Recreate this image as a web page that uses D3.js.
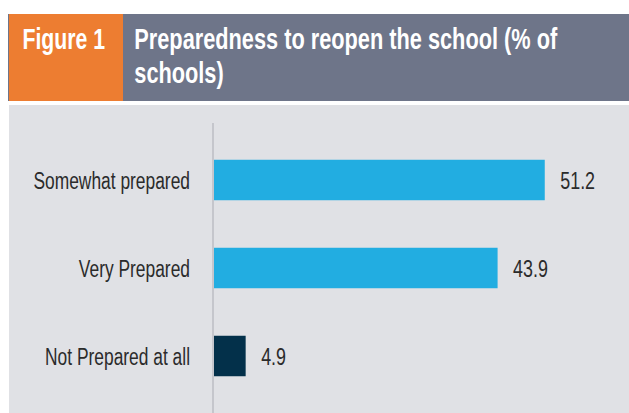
<!DOCTYPE html>
<html>
<head>
<meta charset="utf-8">
<script src="https://cdn.jsdelivr.net/npm/d3@7"></script>
<style>
  html, body { margin: 0; padding: 0; background: #ffffff; }
  svg { display: block; }
</style>
</head>
<body>
<svg id="chart" width="629" height="413"></svg>
<script>
const categories = ["Somewhat prepared", "Very Prepared", "Not Prepared at all"];
const values = [51.2, 43.9, 4.9];
const barColors = ["#22ADE1", "#22ADE1", "#03304A"];
const figureLabel = "Figure 1";
const titleLines = ["Preparedness to reopen the school (% of", "schools)"];

const W = 629, H = 413;
const svg = d3.select("#chart");
const FONT = "'Liberation Sans', Arial, sans-serif";

// header
svg.append("rect").attr("x", 8).attr("y", 14).attr("width", W - 8).attr("height", 87).attr("fill", "#6E7589");
svg.append("rect").attr("x", 9).attr("y", 14).attr("width", 114).attr("height", 87).attr("fill", "#ED7D31");
svg.append("text")
  .attr("transform", "translate(22.5,49.3) scale(0.72,1)")
  .attr("font-family", FONT).attr("font-weight", "bold").attr("font-size", 29.5)
  .attr("fill", "#ffffff").text(figureLabel);
svg.append("g").selectAll("text").data(titleLines).join("text")
  .attr("transform", (d, i) => `translate(134.3,${49.3 + i * 34}) scale(0.75,1)`)
  .attr("font-family", FONT).attr("font-weight", "bold").attr("font-size", 29)
  .attr("fill", "#ffffff").text(d => d);

// panel
svg.append("rect").attr("x", 9).attr("y", 105).attr("width", W - 9).attr("height", H - 105).attr("fill", "#E0E1E5");

const x = d3.scaleLinear().domain([0, 60]).range([214, 601.6]);
const y = d3.scaleBand().domain(categories).range([136, 400]).paddingInner(0.54).paddingOuter(0.27);

// axis line
svg.append("line")
  .attr("x1", x(0) - 1).attr("x2", x(0) - 1)
  .attr("y1", 123).attr("y2", H)
  .attr("stroke", "#C5C6CC").attr("stroke-width", 2);

const rows = categories.map((c, i) => ({ c, v: values[i], color: barColors[i] }));

svg.append("g").selectAll("rect").data(rows).join("rect")
  .attr("x", x(0))
  .attr("y", d => y(d.c))
  .attr("width", d => x(d.v) - x(0))
  .attr("height", y.bandwidth())
  .attr("fill", d => d.color);

// category labels
svg.append("g").selectAll("text").data(rows).join("text")
  .attr("transform", d => `translate(${x(0) - 24},${y(d.c) + y.bandwidth() / 2 + 8.5}) scale(0.71,1)`)
  .attr("text-anchor", "end")
  .attr("font-family", FONT).attr("font-size", 24.5)
  .attr("fill", "#2B2B2B")
  .text(d => d.c);

// value labels
svg.append("g").selectAll("text").data(rows).join("text")
  .attr("transform", d => `translate(${x(d.v) + 15.5},${y(d.c) + y.bandwidth() / 2 + 8.5}) scale(0.73,1)`)
  .attr("font-family", FONT).attr("font-size", 24.5)
  .attr("fill", "#2B2B2B")
  .text(d => d3.format(".1f")(d.v));
</script>
</body>
</html>
